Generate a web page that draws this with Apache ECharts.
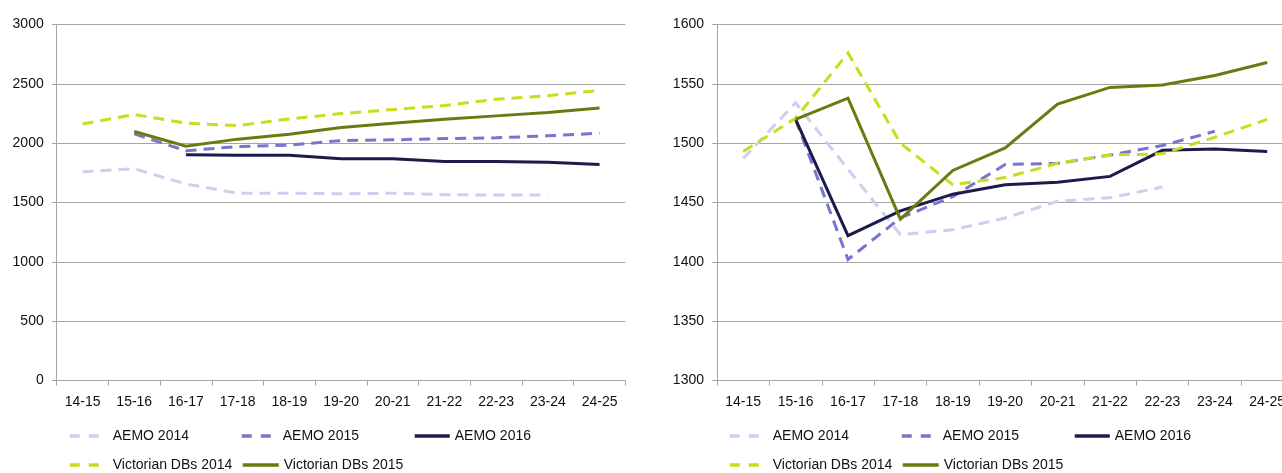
<!DOCTYPE html>
<html>
<head>
<meta charset="utf-8">
<script src="https://cdn.jsdelivr.net/npm/echarts@6/dist/echarts.min.js"></script>
<style>
html,body{margin:0;padding:0;background:#fff;overflow:hidden;}
#c{width:1300px;height:473px;}
</style>
</head>
<body>
<div id="c"></div>
<script>
const categories = ['14-15','15-16','16-17','17-18','18-19','19-20','20-21','21-22','22-23','23-24','24-25'];
const seriesNames = ['AEMO 2014','AEMO 2015','AEMO 2016','Victorian DBs 2014','Victorian DBs 2015'];

// Left chart values
const leftAemo2014 = [1759, 1784, 1656, 1578, 1578, 1574, 1578, 1566, 1563, 1563, null];
const leftAemo2015 = [null, 2078, 1936, 1972, 1983, 2022, 2028, 2039, 2045, 2062, 2084];
const leftAemo2016 = [null, null, 1902, 1899, 1899, 1868, 1868, 1846, 1846, 1840, 1821];
const leftVic2014 = [2162, 2241, 2168, 2148, 2204, 2249, 2283, 2317, 2370, 2400, 2445];
const leftVic2015 = [null, 2098, 1975, 2034, 2076, 2132, 2168, 2202, 2230, 2258, 2297];

// Right chart values
const rightAemo2014 = [1487, 1534, 1478, 1423, 1427, 1437, 1451, 1454, 1463, null, null];
const rightAemo2015 = [null, 1520, 1402, 1437, 1455, 1482, 1483, 1490, 1498, 1510, null];
const rightAemo2016 = [null, 1520, 1422, 1443, 1457, 1465, 1467, 1472, 1494, 1495, 1493];
const rightVic2014 = [1493, 1521, 1576, 1500, 1465, 1471, 1483, 1490, 1491, 1505, 1520];
const rightVic2015 = [null, 1520, 1538, 1436, 1477, 1496, 1533, 1547, 1549, 1557, 1568];

const leftTicks = {min: 0, max: 3000, interval: 500};
const rightTicks = {min: 1300, max: 1600, interval: 50};

const colors = ['#cdcfee', '#7676cf', '#1c1c4c', '#ccdc1c', '#6b7a10'];
const types = [[11,7],[11,7],'solid',[11,7],'solid'];
const FONT = "'Liberation Sans', Arial, sans-serif";
const TEXT = '#111111';
const GRIDC = '#a6a6a6';

const grids = [
  {left: 56.7, top: 24.5, width: 568.7, height: 356, outerBoundsMode: 'none'},
  {left: 717, top: 24.5, width: 576.4, height: 356, outerBoundsMode: 'none'}
];

function xAxis(i){
  return {
    type: 'category', gridIndex: i, data: categories, boundaryGap: true,
    axisLine: {lineStyle: {color: GRIDC, width: 1}},
    axisTick: {show: true, length: 5, lineStyle: {color: GRIDC}, interval: 0},
    axisLabel: {color: TEXT, fontFamily: FONT, fontSize: 14, margin: 15, interval: 0}
  };
}
function yAxis(i, t){
  return {
    type: 'value', gridIndex: i, min: t.min, max: t.max, interval: t.interval,
    axisLine: {show: true, lineStyle: {color: GRIDC, width: 1}},
    axisTick: {show: true, length: 5, lineStyle: {color: GRIDC}},
    splitLine: {lineStyle: {color: GRIDC, width: 1}},
    axisLabel: {color: TEXT, fontFamily: FONT, fontSize: 14, margin: 13, formatter: v => String(v)}
  };
}

const leftData = [leftAemo2014, leftAemo2015, leftAemo2016, leftVic2014, leftVic2015];
const rightData = [rightAemo2014, rightAemo2015, rightAemo2016, rightVic2014, rightVic2015];

const series = [];
[leftData, rightData].forEach((set, gi) => {
  set.forEach((d, k) => {
    series.push({
      name: seriesNames[k], type: 'line', xAxisIndex: gi, yAxisIndex: gi,
      data: d, symbol: 'none', smooth: false, silent: true,
      lineStyle: {color: colors[k], width: 3, type: types[k], cap: 'butt', join: 'miter'},
      itemStyle: {color: colors[k]},
      z: 2
    });
  });
});

// Legend layout (per chart): [seriesIndex, left, top, itemWidth]
const legendSlots = [
  [0, 68, 429, 38],
  [1, 240, 429, 36],
  [2, 413, 429, 35],
  [3, 68, 458, 38],
  [4, 241, 458, 36]
];
const legends = [];
[0, 660].forEach(off => {
  legendSlots.forEach(s => {
    const k = s[0];
    legends.push({
      data: [seriesNames[k]], left: s[1] + off, top: s[2], orient: 'horizontal',
      itemWidth: s[3], itemHeight: 14, padding: 0, selectedMode: false,
      itemStyle: {opacity: 0},
      lineStyle: {width: 3.5, type: types[k] === 'solid' ? 'solid' : [10, 9], color: colors[k], cap: 'butt'},
      textStyle: {color: TEXT, fontFamily: FONT, fontSize: 14}
    });
  });
});

const chart = echarts.init(document.getElementById('c'), null, {renderer: 'canvas'});
chart.setOption({
  animation: false,
  backgroundColor: '#ffffff',
  grid: grids,
  xAxis: [xAxis(0), xAxis(1)],
  yAxis: [yAxis(0, leftTicks), yAxis(1, rightTicks)],
  legend: legends,
  series: series
});
</script>
</body>
</html>
